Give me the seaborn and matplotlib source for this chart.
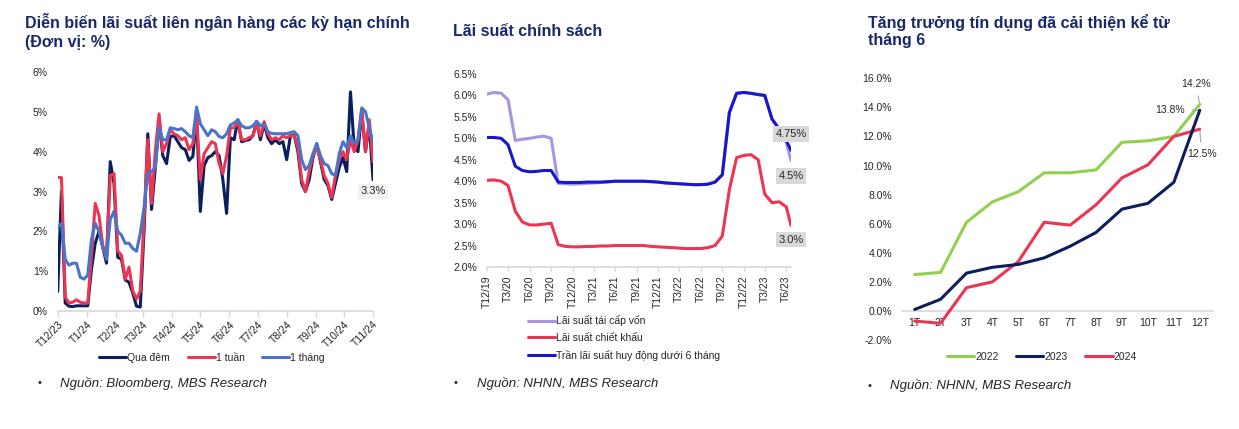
import numpy as np
import pandas as pd
import matplotlib
matplotlib.use("Agg")
import matplotlib.pyplot as plt
from matplotlib.ticker import FuncFormatter
from matplotlib.lines import Line2D
import seaborn as sns

# === DATA: interbank rates (%) ===
interbank_dates = pd.date_range("2023-12-01", periods=85, freq="4D")
overnight = [0.49, 3.0, 0.2, 0.12, 0.11, 0.13, 0.13, 0.13, 0.13, 1.05,
             1.7, 2.0, 1.6, 1.2, 3.75, 3.2, 1.35, 1.3, 0.78, 0.72,
             0.45, 0.12, 0.1, 2.0, 4.45, 2.55, 3.6, 4.8, 3.9, 3.7,
             4.38, 4.4, 4.25, 4.1, 4.05, 3.78, 3.88, 4.9, 2.5, 3.65,
             3.85, 3.9, 4.0, 3.9, 3.3, 2.45, 4.35, 4.3, 4.8, 4.25,
             4.28, 4.3, 4.4, 4.76, 4.3, 4.7, 4.35, 4.2, 4.3, 4.2,
             4.25, 3.8, 4.4, 4.42, 4.0, 3.2, 3.0, 3.3, 3.85, 4.2,
             3.75, 3.3, 3.15, 2.8, 3.2, 3.6, 3.85, 3.5, 5.5, 4.1,
             4.0, 5.0, 4.0, 4.7, 3.3]
one_week = [3.35, 3.35, 0.35, 0.2, 0.22, 0.28, 0.22, 0.2, 0.2, 1.4,
            2.7, 2.4, 1.65, 1.35, 3.4, 3.45, 1.5, 1.4, 0.8, 1.1,
            0.5, 0.3, 0.5, 2.3, 4.3, 2.7, 4.0, 4.95, 4.0, 4.2,
            4.55, 4.45, 4.4, 4.3, 4.35, 4.05, 4.2, 4.9, 3.3, 3.95,
            4.1, 4.25, 4.2, 3.7, 3.45, 3.9, 4.6, 4.6, 4.75, 4.3,
            4.3, 4.35, 4.4, 4.7, 4.4, 4.75, 4.45, 4.3, 4.35, 4.3,
            4.4, 4.35, 4.4, 4.4, 4.1, 3.3, 3.0, 3.5, 3.9, 4.1,
            3.8, 3.4, 3.2, 2.85, 3.4, 3.8, 4.0, 3.8, 4.3, 4.0,
            4.3, 5.05, 4.0, 4.8, 3.75]
one_month = [2.1, 2.2, 1.3, 1.15, 1.2, 1.2, 0.85, 0.8, 0.9, 1.8,
             2.2, 2.0, 1.6, 1.3, 2.3, 2.5, 2.0, 1.9, 1.7, 1.7,
             1.57, 1.5, 1.95, 2.6, 3.45, 3.5, 3.6, 4.6, 4.3, 4.3,
             4.6, 4.58, 4.55, 4.58, 4.5, 4.4, 4.35, 5.12, 4.7, 4.55,
             4.4, 4.55, 4.5, 4.38, 4.35, 4.45, 4.67, 4.72, 4.8, 4.65,
             4.6, 4.6, 4.65, 4.76, 4.65, 4.7, 4.5, 4.46, 4.45, 4.45,
             4.45, 4.45, 4.48, 4.5, 4.4, 3.8, 3.55, 3.65, 3.95, 4.2,
             3.9, 3.7, 3.65, 3.45, 3.4, 3.95, 4.25, 4.1, 4.4, 4.2,
             4.3, 5.1, 5.0, 4.6, 4.25]
interbank_ticks = pd.date_range("2023-12-01", "2024-11-01", freq="MS")
interbank_labels = ["T12/23", "T1/24", "T2/24", "T3/24", "T4/24", "T5/24",
                    "T6/24", "T7/24", "T8/24", "T9/24", "T10/24", "T11/24"]

# === DATA: policy rates (%) ===
policy_dates = list(pd.date_range("2019-12-01", "2023-06-01", freq="MS")) + [pd.Timestamp("2023-06-21")]
refinance = [6.03, 6.07, 6.05, 5.9, 4.95, 4.98, 5.0, 5.03, 5.05, 5.0,
             3.95, 3.94, 3.93, 3.94, 3.95, 3.96, 3.97, 3.98, 4.0, 4.0,
             4.0, 4.0, 4.0, 3.99, 3.98, 3.96, 3.95, 3.94, 3.93, 3.92,
             3.92, 3.93, 3.98, 4.15, 5.6, 6.05, 6.07, 6.05, 6.02, 6.0,
             5.45, 5.22, 4.9, 4.48]
discount = [4.02, 4.03, 4.0, 3.9, 3.3, 3.05, 2.98, 2.98, 3.0, 3.02,
            2.52, 2.48, 2.47, 2.47, 2.48, 2.48, 2.49, 2.49, 2.5, 2.5,
            2.5, 2.5, 2.5, 2.48, 2.47, 2.46, 2.45, 2.44, 2.43, 2.43,
            2.43, 2.45, 2.5, 2.72, 3.8, 4.55, 4.6, 4.62, 4.5, 3.7,
            3.5, 3.52, 3.4, 2.97]
deposit_cap = [5.02, 5.02, 5.0, 4.85, 4.35, 4.25, 4.22, 4.23, 4.25, 4.25,
               3.98, 3.97, 3.97, 3.97, 3.98, 3.98, 3.98, 3.99, 4.0, 4.0,
               4.0, 4.0, 4.0, 3.99, 3.98, 3.96, 3.95, 3.94, 3.93, 3.92,
               3.92, 3.93, 3.98, 4.15, 5.6, 6.05, 6.07, 6.05, 6.02, 6.0,
               5.45, 5.22, 4.95, 4.72]
policy_ticks = pd.date_range("2019-12-01", "2023-06-01", freq="3MS")
policy_labels = ["T12/19", "T3/20", "T6/20", "T9/20", "T12/20", "T3/21", "T6/21", "T9/21",
                 "T12/21", "T3/22", "T6/22", "T9/22", "T12/22", "T3/23", "T6/23"]

# === DATA: credit growth YTD (%) ===
credit_months = ["1T", "2T", "3T", "4T", "5T", "6T", "7T", "8T", "9T", "10T", "11T", "12T"]
credit_2022 = [2.5, 2.65, 6.1, 7.5, 8.2, 9.5, 9.5, 9.7, 11.6, 11.7, 12.0, 14.2]
credit_2023 = [0.1, 0.8, 2.6, 3.0, 3.2, 3.65, 4.45, 5.4, 7.0, 7.4, 8.85, 13.8]
credit_2024 = [-0.7, -0.85, 1.6, 2.0, 3.4, 6.1, 5.9, 7.3, 9.15, 10.05, 12.0, 12.5]

# === STYLE ===
sns.set_theme(style="white")
plt.rcParams["font.family"] = ["Liberation Sans", "DejaVu Sans"]
TITLE_COLOR = "#17286B"
TEXT_COLOR = "#262626"
AXIS_GRAY = "#D9D9D9"
NAVY = "#0C1E5B"
RED = "#EC3553"
LBLUE = "#4A74C9"
PURPLE = "#A894E6"
BLUE = "#1717D0"
GREEN = "#92D050"
TICK_FS = 7.5
LW = 2.2

W, H = 1239, 429
fig = plt.figure(figsize=(W / 100, H / 100), dpi=100)


def px_axes(x0, x1, ytop, ybot):
    return fig.add_axes([x0 / W, 1 - ybot / H, (x1 - x0) / W, (ybot - ytop) / H])


def clean(ax):
    for s in ["top", "right", "left"]:
        ax.spines[s].set_visible(False)
    ax.spines["bottom"].set_color(AXIS_GRAY)
    ax.spines["bottom"].set_linewidth(1.2)
    ax.tick_params(axis="y", length=0, pad=7, labelsize=TICK_FS, labelcolor=TEXT_COLOR)
    ax.set_xlabel("")
    ax.set_ylabel("")


# === LEFT: interbank ===
ax1 = px_axes(57.7, 373, 72, 311)
df1 = pd.DataFrame({"date": interbank_dates, "Qua đêm": overnight,
                    "1 tuần": one_week, "1 tháng": one_month})
for name, col in [("Qua đêm", NAVY), ("1 tuần", RED), ("1 tháng", LBLUE)]:
    sns.lineplot(data=df1, x="date", y=name, ax=ax1, color=col, linewidth=LW, label=name, legend=False)
ax1.set_xlim(interbank_dates[0], interbank_dates[-1])
ax1.set_ylim(0, 6)
ax1.set_yticks(range(0, 7))
ax1.yaxis.set_major_formatter(FuncFormatter(lambda v, p: f"{v:.0f}%"))
ax1.set_xticks(interbank_ticks)
ax1.set_xticklabels(interbank_labels, rotation=45, ha="right", rotation_mode="anchor")
clean(ax1)
ax1.tick_params(axis="x", length=4, width=1, color=AXIS_GRAY, pad=2, labelsize=TICK_FS,
                labelcolor=TEXT_COLOR, direction="out", bottom=True)
ax1.annotate("3.3%", xy=(interbank_dates[-1], 3.0), ha="center", va="center", fontsize=8,
             color=TEXT_COLOR, bbox=dict(boxstyle="square,pad=0.25", fc="#F2F2F2", ec="none"))
fig.legend(handles=[Line2D([], [], color=c, lw=LW) for c in [NAVY, RED, LBLUE]],
           labels=["Qua đêm", "1 tuần", "1 tháng"], loc="center", ncol=3,
           bbox_to_anchor=(212 / W, 1 - 358 / H), frameon=False, fontsize=7.5,
           handlelength=2.6, handletextpad=0.1, columnspacing=1.7, borderpad=0)

# === MIDDLE: policy rates ===
ax2 = px_axes(486.7, 791, 74, 267)
df2 = pd.DataFrame({"date": policy_dates, "refi": refinance, "disc": discount, "cap": deposit_cap})
for name, col in [("refi", PURPLE), ("disc", RED), ("cap", BLUE)]:
    sns.lineplot(data=df2, x="date", y=name, ax=ax2, color=col, linewidth=LW, legend=False)
ax2.set_xlim(policy_dates[0], policy_dates[-1])
ax2.set_ylim(2.0, 6.5)
ax2.set_yticks(np.arange(2.0, 6.51, 0.5))
ax2.yaxis.set_major_formatter(FuncFormatter(lambda v, p: f"{v:.1f}%"))
ax2.set_xticks(policy_ticks)
ax2.set_xticklabels(policy_labels, rotation=90, ha="center", va="top")
clean(ax2)
ax2.tick_params(axis="x", length=3, width=1, color=AXIS_GRAY, pad=3, labelsize=TICK_FS,
                labelcolor=TEXT_COLOR, direction="out", bottom=True)
for txt, yv in [("4.75%", 5.1), ("4.5%", 4.12), ("3.0%", 2.64)]:
    ax2.annotate(txt, xy=(policy_dates[-1], yv), ha="center", va="center", fontsize=8,
                 color=TEXT_COLOR, bbox=dict(boxstyle="square,pad=0.25", fc="#D9D9D9", ec="none"))
fig.legend(handles=[Line2D([], [], color=c, lw=LW) for c in [PURPLE, RED, BLUE]],
           labels=["Lãi suất tái cấp vốn", "Lãi suất chiết khấu", "Trần lãi suất huy động dưới 6 tháng"],
           loc="center left", bbox_to_anchor=(528 / W, 1 - 338 / H), frameon=False, fontsize=7.5,
           handlelength=2.6, handletextpad=0.1, labelspacing=0.65, borderpad=0, borderaxespad=0)

# === RIGHT: credit growth ===
ax3 = px_axes(901.7, 1212.7, 78.3, 340)
df3 = pd.DataFrame({"month": credit_months, "2022": credit_2022, "2023": credit_2023, "2024": credit_2024})
for name, col, z in [("2022", GREEN, 2), ("2023", NAVY, 4), ("2024", RED, 3)]:
    sns.lineplot(data=df3, x="month", y=name, ax=ax3, color=col, linewidth=LW, legend=False, zorder=z)
ax3.set_xlim(-0.5, 11.5)
ax3.set_ylim(-2, 16)
ax3.set_yticks(np.arange(-2, 16.1, 2))
ax3.yaxis.set_major_formatter(FuncFormatter(lambda v, p: f"{v:.1f}%"))
clean(ax3)
ax3.spines["bottom"].set_position(("data", 0))
ax3.tick_params(axis="x", length=0, pad=5, labelsize=TICK_FS, labelcolor=TEXT_COLOR)
lead = dict(arrowstyle="-", color="#A6A6A6", lw=0.8, shrinkA=3, shrinkB=1)
ax3.annotate("14.2%", xy=(11, 14.2), xytext=(10.85, 15.64), ha="center", va="center",
             fontsize=7.5, color=TEXT_COLOR, arrowprops=lead)
ax3.annotate("13.8%", xy=(11, 13.8), xytext=(9.85, 13.85), ha="center", va="center",
             fontsize=7.5, color=TEXT_COLOR, arrowprops=lead)
ax3.annotate("12.5%", xy=(11, 12.5), xytext=(11.07, 10.76), ha="center", va="center",
             fontsize=7.5, color=TEXT_COLOR, arrowprops=lead)
fig.legend(handles=[Line2D([], [], color=c, lw=LW) for c in [GREEN, NAVY, RED]],
           labels=["2022", "2023", "2024"], loc="center", ncol=3,
           bbox_to_anchor=(1042 / W, 1 - 357 / H), frameon=False, fontsize=7.5,
           handlelength=2.6, handletextpad=0.1, columnspacing=1.7, borderpad=0)

# === TITLES & SOURCES ===
titles = [(25, 21.7, "Diễn biến lãi suất liên ngân hàng các kỳ hạn chính"),
          (25, 42.7, "(Đơn vị: %)"),
          (453, 31.7, "Lãi suất chính sách"),
          (868, 22.7, "Tăng trưởng tín dụng đã cải thiện kể từ"),
          (868, 40, "tháng 6")]
for x, y, t in titles:
    fig.text(x / W, 1 - y / H, t, ha="left", va="center", fontsize=11.5,
             fontweight="bold", color=TITLE_COLOR)

sources = [(38, 60, 383, "Nguồn: Bloomberg, MBS Research"),
           (454, 477, 383, "Nguồn: NHNN, MBS Research"),
           (868, 890, 386, "Nguồn: NHNN, MBS Research")]
for xb, xt, y, t in sources:
    fig.text(xb / W, 1 - y / H, "•", ha="left", va="center", fontsize=8, color=TEXT_COLOR)
    fig.text(xt / W, 1 - y / H, t, ha="left", va="center", fontsize=9.5,
             style="italic", color=TEXT_COLOR)

fig.savefig("out.png", dpi=100)
